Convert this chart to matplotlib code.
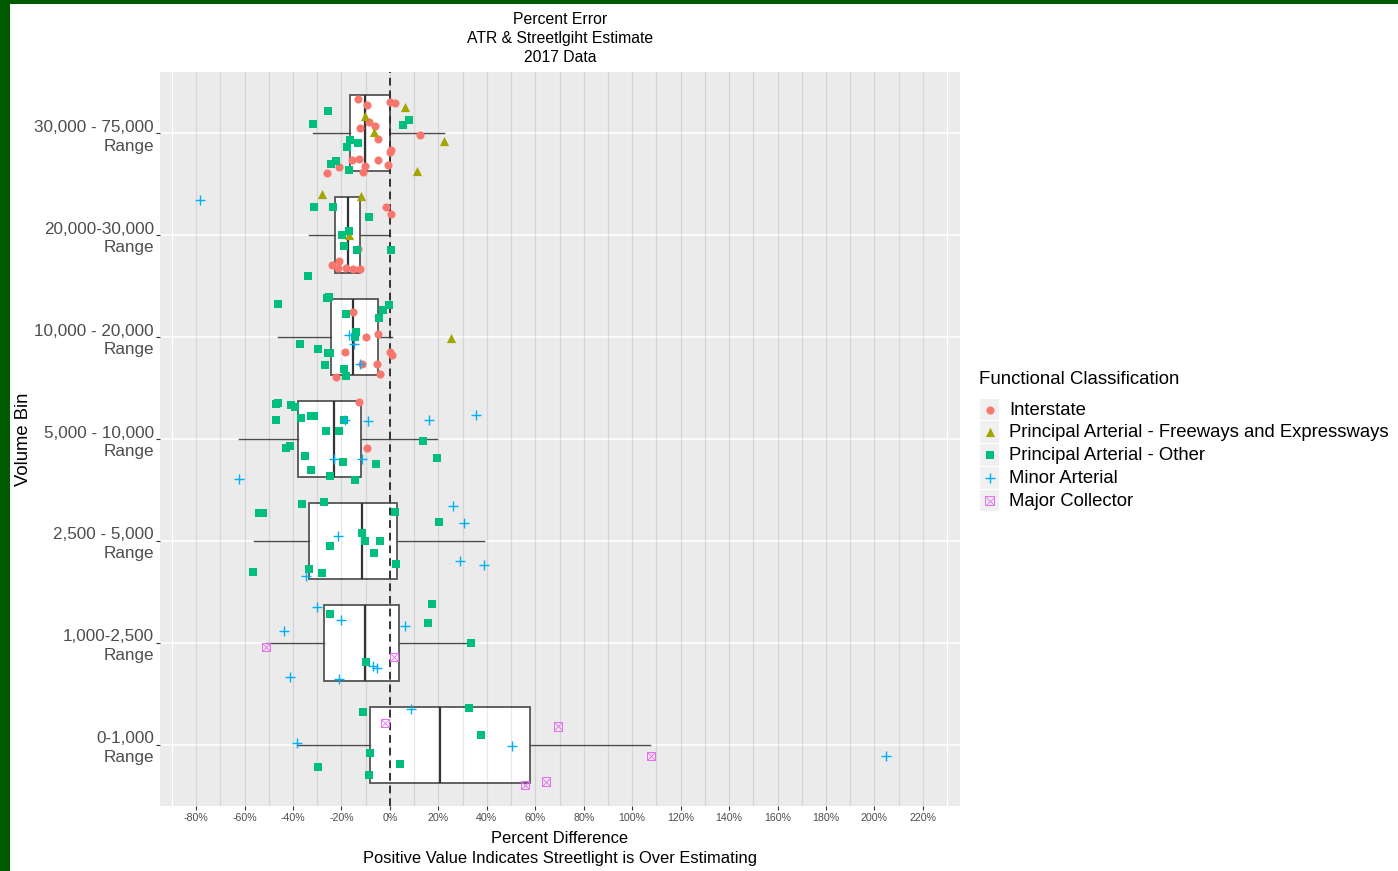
import matplotlib
matplotlib.use("Agg")
import matplotlib.pyplot as plt
from matplotlib.patches import Rectangle

plt.rcParams['font.family'] = ['Liberation Sans', 'DejaVu Sans']

# ---------------- data ----------------
bin_labels = ["0-1,000\nRange", "1,000-2,500\nRange", "2,500 - 5,000\nRange",
              "5,000 - 10,000\nRange", "10,000 - 20,000\nRange",
              "20,000-30,000\nRange", "30,000 - 75,000\nRange"]

class_names = ["Interstate", "Principal Arterial - Freeways and Expressways",
               "Principal Arterial - Other", "Minor Arterial", "Major Collector"]
class_colors = ["#F8766D", "#A3A500", "#00BF7D", "#00B0F6", "#E76BF3"]

# box statistics per bin (percent): lower whisker, Q1, median, Q3, upper whisker
box_whislo = [-38.5, -51.1, -56.2, -62.4, -46.0, -33.4, -31.7]
box_q1     = [-8.1, -27.2, -33.4, -37.8, -24.3, -22.5, -16.5]
box_med    = [20.5, -10.1, -11.5, -23.1, -15.1, -17.4, -10.1]
box_q3     = [57.8, 3.9, 2.8, -12.1, -4.8, -12.3, 0.0]
box_whishi = [107.3, 33.3, 38.7, 19.6, 0.7, 0.0, 22.5]

# Interstate points: bin index, percent difference, vertical jitter (bin units)
inter_bin = [6]*19 + [5]*9 + [4]*10 + [3]*2
inter_pct = [-13.3, -9.3, 0.0, 2.0, -8.5, -6.0, -12.2, -4.9, 12.4, -0.1, -15.5, -12.6, -4.9,
             -21.1, -10.4, -11.1, -0.7, -26.0, 0.3,
             -1.7, 0.3, -23.8, -21.0, -21.3, -18.0, -15.1, -12.5, -13.2,
             -15.1, -10.0, -5.0, -18.4, 0.0, 0.9, -11.5, -5.3, -22.4, -4.2,
             -12.6, -9.3]
inter_jit = [0.34, 0.28, 0.31, 0.30, 0.11, 0.07, 0.05, -0.06, -0.02, -0.18, -0.26, -0.25, -0.26,
             -0.33, -0.32, -0.38, -0.31, -0.39, -0.17,
             0.28, 0.21, -0.29, -0.25, -0.32, -0.32, -0.33, -0.33, -0.14,
             0.25, 0.00, 0.03, -0.15, -0.15, -0.18, -0.26, -0.26, -0.39, -0.36,
             0.36, -0.09]

# Principal Arterial - Freeways and Expressways
fwy_bin = [6]*6 + [5]*3 + [4]
fwy_pct = [6.1, -10.1, -6.4, -16.3, 22.5, 11.2, -28.2, -11.9, -16.9, 25.3]
fwy_jit = [0.26, 0.17, 0.01, -0.06, -0.08, -0.37, 0.40, 0.38, 0.00, -0.01]

# Principal Arterial - Other
oth_bin = [6]*10 + [5]*9 + [4]*16 + [3]*21 + [2]*15 + [1]*5 + [0]*7
oth_pct = [-25.5, -31.7, 5.5, 8.0, -16.6, -13.0, -17.7, -22.4, -24.3, -17.0,
           -31.2, -23.5, -8.8, -17.0, -19.6, -18.8, -13.7, 0.3, -33.7,
           -25.0, -26.1, -46.2, -0.5, -2.8, -18.2, -4.4, -13.9, -14.3, -37.1, -29.5, -25.7,
           -24.6, -26.7, -19.1, -18.0,
           -47.1, -46.2, -40.8, -39.2, -46.9, -36.8, -32.7, -31.2, -18.8, -26.4, -21.0, 13.5,
           -42.9, -41.2, -34.9, 19.6, -32.4, -19.5, -5.7, -24.8, -14.4,
           -36.1, -27.1, -54.0, -52.2, 2.2, 20.1, -11.5, -10.4, -4.2, -24.8, -6.4, 2.6,
           -56.4, -33.5, -28.2,
           -24.8, 17.5, 15.6, 33.3, -10.0,
           -11.3, 32.5, 37.6, -8.3, -29.8, 4.3, -8.8]
oth_jit = [0.22, 0.09, 0.08, 0.13, -0.07, -0.10, -0.14, -0.27, -0.30, -0.36,
           0.28, 0.28, 0.18, 0.04, 0.00, -0.11, -0.15, -0.15, -0.40,
           0.39, 0.38, 0.32, 0.31, 0.27, 0.23, 0.19, 0.05, 0.00, -0.07, -0.12, -0.16,
           -0.16, -0.27, -0.31, -0.38,
           0.34, 0.35, 0.33, 0.31, 0.19, 0.21, 0.23, 0.23, 0.19, 0.08, 0.08, -0.02,
           -0.09, -0.07, -0.17, -0.19, -0.30, -0.23, -0.25, -0.36, -0.40,
           0.36, 0.38, 0.27, 0.27, 0.28, 0.19, 0.08, 0.00, 0.00, -0.05, -0.12, -0.23,
           -0.30, -0.28, -0.31,
           0.28, 0.38, 0.20, 0.00, -0.19,
           0.32, 0.36, 0.10, -0.08, -0.22, -0.19, -0.30]

# Minor Arterial
min_bin = [5] + [4]*3 + [3]*7 + [2]*6 + [1]*8 + [0]*4
min_pct = [-78.2,
           -17.0, -15.0, -12.3,
           -18.4, -8.9, 16.3, 35.4, -22.9, -11.4, -62.4,
           26.0, 30.6, -21.5, 28.8, 38.8, -34.5,
           -30.0, -20.3, 6.2, -43.8, -6.8, -5.3, -41.2, -20.9,
           8.5, -38.5, 50.2, 204.9]
min_jit = [0.34,
           0.02, -0.07, -0.26,
           0.19, 0.18, 0.19, 0.24, -0.20, -0.20, -0.39,
           0.34, 0.18, 0.05, -0.20, -0.24, -0.34,
           0.35, 0.22, 0.17, 0.12, -0.23, -0.25, -0.33, -0.35,
           0.35, 0.02, -0.01, -0.11]

# Major Collector
maj_bin = [1, 1, 0, 0, 0, 0, 0]
maj_pct = [-51.3, 1.8, -2.0, 69.4, 107.7, 55.9, 64.3]
maj_jit = [-0.04, -0.14, 0.21, 0.18, -0.11, -0.39, -0.36]

x_ticks = list(range(-80, 221, 20))
x_tick_labels = [f"{v}%" for v in x_ticks]

# ---------------- figure ----------------
W, H = 1398, 871
fig = plt.figure(figsize=(W / 100, H / 100), dpi=100)
fig.patch.set_facecolor("white")

ax = fig.add_axes([160 / W, 1 - 806 / H, 800 / W, 734 / H])
ax.set_facecolor("#EBEBEB")
for s in ax.spines.values():
    s.set_visible(False)

ax.set_xlim(-94.9, 235.3)
ax.set_ylim(0.4, 7.6)

# grid
for i in range(len(bin_labels)):
    ax.axhline(i + 1, color="white", lw=1.1, zorder=1)
for v in (-90, 230):
    ax.axvline(v, color="white", lw=0.8, zorder=1)

# boxplots
stats = []
for i in range(len(bin_labels)):
    stats.append(dict(whislo=box_whislo[i], q1=box_q1[i], med=box_med[i],
                      q3=box_q3[i], whishi=box_whishi[i]))
ax.bxp(stats, positions=[i + 1 for i in range(len(stats))], widths=0.75,
       orientation="horizontal", showfliers=False, showcaps=False, patch_artist=True,
       boxprops=dict(facecolor="white", edgecolor="#555555", lw=1.3),
       medianprops=dict(color="#333333", lw=1.6),
       whiskerprops=dict(color="#4a4a4a", lw=1.0), zorder=2)

# reference lines every 10%
for v in range(-80, 221, 10):
    ax.axvline(v, color="black", alpha=0.09, lw=0.9, zorder=2.5)
ax.axvline(0, color="#333333", lw=1.4, ls=(0, (4, 2.5)), zorder=3)

# points
def ys(bins, jit):
    return [b + 1 + j for b, j in zip(bins, jit)]

S_CIR, S_TRI, S_SQ, S_PLUS, S_COL = 34, 44, 31, 62, 34
ax.scatter(inter_pct, ys(inter_bin, inter_jit), marker="o", s=S_CIR, color=class_colors[0],
           lw=0, zorder=4)
ax.scatter(fwy_pct, ys(fwy_bin, fwy_jit), marker="^", s=S_TRI, color=class_colors[1],
           lw=0, zorder=4)
ax.scatter(oth_pct, ys(oth_bin, oth_jit), marker="s", s=S_SQ, color=class_colors[2],
           lw=0, zorder=4)
ax.scatter(min_pct, ys(min_bin, min_jit), marker="+", s=S_PLUS, color=class_colors[3],
           lw=1.0, zorder=4)
ax.scatter(maj_pct, ys(maj_bin, maj_jit), marker="s", s=S_COL, facecolors="none",
           edgecolors=class_colors[4], lw=0.7, zorder=4)
ax.scatter(maj_pct, ys(maj_bin, maj_jit), marker="x", s=S_COL, color=class_colors[4],
           lw=0.6, zorder=4)

# axes ticks
ax.set_xticks(x_ticks)
ax.set_xticklabels(x_tick_labels)
ax.set_yticks([i + 1 for i in range(len(bin_labels))])
ax.set_yticklabels(bin_labels, linespacing=1.32, ha="right", multialignment="right")
ax.tick_params(axis="x", length=2.75, width=0.8, color="#333333", labelsize=7.7,
               labelcolor="#4D4D4D", pad=2.5)
ax.tick_params(axis="y", length=2.75, width=0.8, color="#333333", labelsize=12.3,
               labelcolor="#4D4D4D", pad=1.5)

# titles
def fy(py):
    return 1 - py / H

for t, py in (("Percent Error", 19), ("ATR & Streetlgiht Estimate", 38), ("2017 Data", 57)):
    fig.text(560 / W, fy(py), t, ha="center", va="center", fontsize=11.3)
fig.text(560 / W, fy(838), "Percent Difference", ha="center", va="center", fontsize=11.9)
fig.text(560 / W, fy(858), "Positive Value Indicates Streetlight is Over Estimating",
         ha="center", va="center", fontsize=11.9)
fig.text(24 / W, fy(439), "Volume Bin", ha="center", va="center", rotation=90, fontsize=13.3)

# overlay for legend and frame (pixel coordinates)
oax = fig.add_axes([0, 0, 1, 1], facecolor="none")
oax.set_xlim(0, W)
oax.set_ylim(H, 0)
oax.axis("off")

oax.add_patch(Rectangle((0, 0), 10, H, color="#005A00", lw=0))
oax.add_patch(Rectangle((0, 0), W, 4, color="#005A00", lw=0))

oax.text(979, 379, "Functional Classification", ha="left", va="center", fontsize=13.4)
pitch = 22.75
for i, name in enumerate(class_names):
    cy = 409.5 + pitch * i
    oax.add_patch(Rectangle((980, cy - pitch / 2 + 0.5), 19, pitch - 1, color="#F0F0F0", lw=0))
    oax.text(1009, cy + 0.5, name, ha="left", va="center", fontsize=13.35)
kx = 989.5
oax.scatter([kx], [409.5], marker="o", s=S_CIR, color=class_colors[0], lw=0)
oax.scatter([kx], [409.5 + pitch], marker="^", s=S_TRI, color=class_colors[1], lw=0)
oax.scatter([kx], [409.5 + 2 * pitch], marker="s", s=S_SQ, color=class_colors[2], lw=0)
oax.scatter([kx], [409.5 + 3 * pitch], marker="+", s=S_PLUS, color=class_colors[3], lw=1.0)
oax.scatter([kx], [409.5 + 4 * pitch], marker="s", s=S_COL, facecolors="none",
            edgecolors=class_colors[4], lw=0.7)
oax.scatter([kx], [409.5 + 4 * pitch], marker="x", s=S_COL, color=class_colors[4], lw=0.6)

fig.savefig("out.png", dpi=100)
